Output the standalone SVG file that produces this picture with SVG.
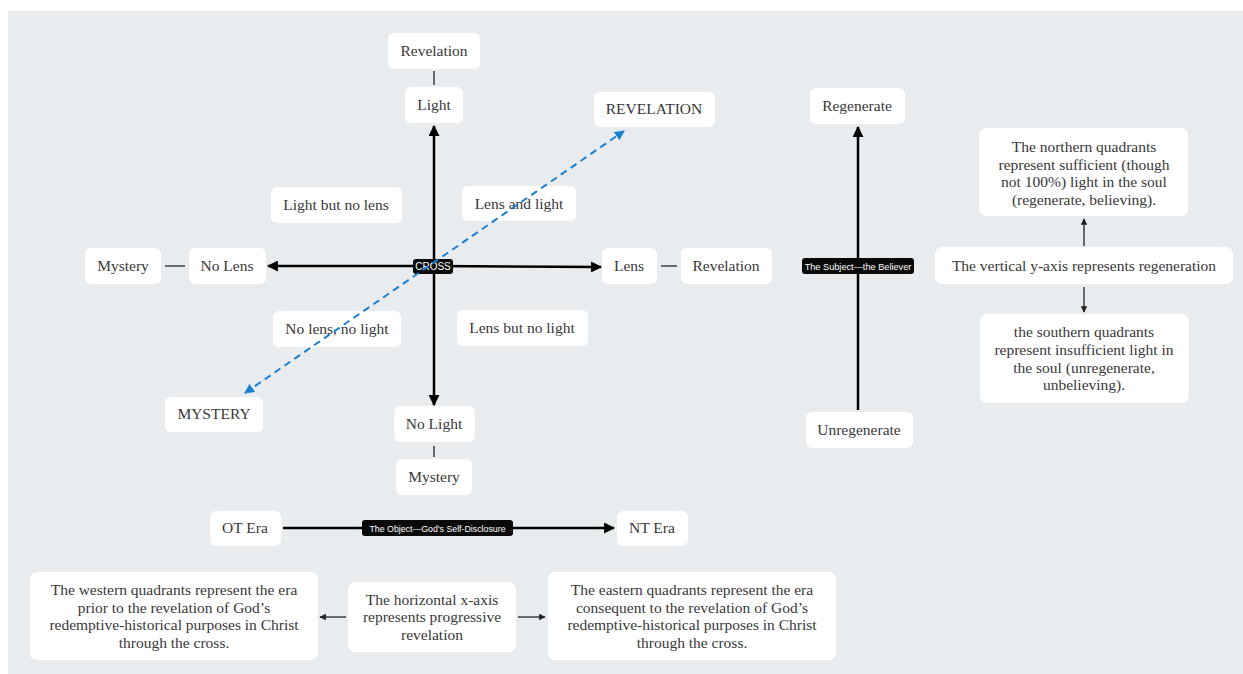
<svg xmlns="http://www.w3.org/2000/svg" width="1243" height="674" viewBox="0 0 1243 674">
<style>
.node rect{fill:#ffffff;}
.node text{font-family:"Liberation Serif","Times New Roman",serif;font-size:15.5px;fill:#383838;text-anchor:middle;}
.tag rect{fill:#0a0a0a;}
.tag text{font-family:"Liberation Sans",Arial,sans-serif;font-size:9.2px;fill:#ffffff;text-anchor:middle;}
.axis{stroke:#000;stroke-width:2.5;fill:none;}
.thin{stroke:#222;stroke-width:1.3;fill:none;}
.dash{stroke:#1a7fd0;stroke-width:2;fill:none;stroke-dasharray:7 5;}
</style>
<defs>
<marker id="ah" viewBox="0 0 10 10" refX="9" refY="5" markerWidth="4.4" markerHeight="4.4" orient="auto-start-reverse" markerUnits="strokeWidth">
<path d="M0,0 L10,5 L0,10 z" fill="#000"/>
</marker>
<marker id="ahs" viewBox="0 0 10 10" refX="9" refY="5" markerWidth="5" markerHeight="5" orient="auto-start-reverse" markerUnits="strokeWidth">
<path d="M0,0 L10,5 L0,10 z" fill="#222"/>
</marker>
<marker id="ahb" viewBox="0 0 10 10" refX="9" refY="5" markerWidth="5" markerHeight="5" orient="auto-start-reverse" markerUnits="strokeWidth">
<path d="M0,0 L10,5 L0,10 z" fill="#1a7fd0"/>
</marker>
</defs>
<rect x="0" y="0" width="1243" height="674" fill="#ffffff"/>
<rect x="8" y="11" width="1235" height="663" fill="#e8ecef"/>

<g id="connectors">
<line class="axis" x1="434" y1="266" x2="434" y2="126" marker-end="url(#ah)"/>
<line class="axis" x1="434" y1="266" x2="434" y2="405" marker-end="url(#ah)"/>
<line class="axis" x1="434" y1="266" x2="268" y2="266" marker-end="url(#ah)"/>
<line class="axis" x1="434" y1="266" x2="601" y2="267" marker-end="url(#ah)"/>
<line class="thin" x1="434" y1="71" x2="434" y2="85"/>
<line class="thin" x1="434" y1="446" x2="434" y2="457"/>
<line class="thin" x1="165" y1="266" x2="185" y2="266"/>
<line class="thin" x1="661" y1="266" x2="677" y2="266"/>
<line class="axis" x1="858" y1="410" x2="858" y2="127" marker-end="url(#ah)"/>
<line class="axis" x1="283" y1="528" x2="614" y2="528" marker-end="url(#ah)"/>
<line class="thin" x1="1084" y1="246" x2="1084" y2="219" marker-end="url(#ahs)"/>
<line class="thin" x1="1084" y1="287" x2="1084" y2="312" marker-end="url(#ahs)"/>
<line class="thin" x1="346" y1="617" x2="320" y2="617" marker-end="url(#ahs)"/>
<line class="thin" x1="518" y1="617" x2="545" y2="617" marker-end="url(#ahs)"/>
</g>

<g id="revelation-top" class="node"><rect x="388" y="33" width="92" height="36" rx="6"/><text x="434" y="56">Revelation</text></g>
<g id="light" class="node"><rect x="405" y="87" width="58" height="36" rx="6"/><text x="434" y="110">Light</text></g>
<g id="revelation-caps" class="node"><rect x="594" y="92" width="121" height="35" rx="6"/><text x="654" y="114">REVELATION</text></g>
<g id="light-no-lens" class="node"><rect x="271" y="187" width="131" height="36" rx="6"/><text x="336" y="210">Light but no lens</text></g>
<g id="lens-and-light" class="node"><rect x="462" y="186" width="114" height="35" rx="6"/><text x="519" y="209">Lens and light</text></g>
<g id="mystery-left" class="node"><rect x="85" y="248" width="76" height="36" rx="6"/><text x="123" y="271">Mystery</text></g>
<g id="no-lens" class="node"><rect x="189" y="248" width="77" height="36" rx="6"/><text x="227" y="271">No Lens</text></g>
<g id="lens" class="node"><rect x="602" y="248" width="55" height="36" rx="6"/><text x="629" y="271">Lens</text></g>
<g id="revelation-right" class="node"><rect x="681" y="248" width="91" height="36" rx="6"/><text x="726" y="271">Revelation</text></g>
<g id="no-lens-no-light" class="node"><rect x="273" y="311" width="128" height="36" rx="6"/><text x="337" y="334">No lens, no light</text></g>
<g id="lens-no-light" class="node"><rect x="457" y="310" width="131" height="36" rx="6"/><text x="522" y="333">Lens but no light</text></g>
<g id="mystery-caps" class="node"><rect x="165" y="397" width="98" height="35" rx="6"/><text x="214" y="419">MYSTERY</text></g>
<g id="no-light" class="node"><rect x="394" y="406" width="81" height="36" rx="6"/><text x="434" y="429">No Light</text></g>
<g id="mystery-bottom" class="node"><rect x="396" y="459" width="76" height="36" rx="6"/><text x="434" y="482">Mystery</text></g>

<g id="cross" class="tag"><rect x="413" y="259" width="40" height="15" rx="3"/><text x="433" y="270" style="font-size:10px">CROSS</text></g>

<g id="regenerate" class="node"><rect x="810" y="88" width="95" height="36" rx="6"/><text x="857" y="111">Regenerate</text></g>
<g id="unregenerate" class="node"><rect x="806" y="412" width="107" height="36" rx="6"/><text x="859" y="435">Unregenerate</text></g>
<g id="subject" class="tag"><rect x="802" y="258" width="112" height="16" rx="3"/><text x="858" y="269.5">The Subject—the Believer</text></g>

<g id="northern" class="node"><rect x="979" y="128" width="209" height="88" rx="7"/>
<text x="1084" y="152">The northern quadrants</text>
<text x="1084" y="169.5">represent sufficient (though</text>
<text x="1084" y="187">not 100%) light in the soul</text>
<text x="1084" y="204.5">(regenerate, believing).</text></g>
<g id="vertical-axis" class="node"><rect x="935" y="247" width="298" height="37" rx="7"/><text x="1084" y="271">The vertical y-axis represents regeneration</text></g>
<g id="southern" class="node"><rect x="980" y="314" width="209" height="89" rx="7"/>
<text x="1084" y="337">the southern quadrants</text>
<text x="1084" y="355">represent insufficient light in</text>
<text x="1084" y="372.5">the soul (unregenerate,</text>
<text x="1084" y="390">unbelieving).</text></g>

<g id="ot-era" class="node"><rect x="210" y="511" width="71" height="35" rx="6"/><text x="245" y="533">OT Era</text></g>
<g id="nt-era" class="node"><rect x="617" y="511" width="71" height="35" rx="6"/><text x="652" y="533">NT Era</text></g>
<g id="object" class="tag"><rect x="362" y="520" width="151" height="16" rx="3"/><text x="437.5" y="531.5" style="font-size:8.8px">The Object—God's Self-Disclosure</text></g>

<g id="western" class="node"><rect x="30" y="572" width="288" height="88" rx="7"/>
<text x="174" y="595">The western quadrants represent the era</text>
<text x="174" y="612.5">prior to the revelation of God’s</text>
<text x="174" y="630">redemptive-historical purposes in Christ</text>
<text x="174" y="647.5">through the cross.</text></g>
<g id="horizontal-axis" class="node"><rect x="348" y="582" width="168" height="70" rx="7"/>
<text x="432" y="605">The horizontal x-axis</text>
<text x="432" y="622">represents progressive</text>
<text x="432" y="639.5">revelation</text></g>
<g id="eastern" class="node"><rect x="548" y="572" width="288" height="88" rx="7"/>
<text x="692" y="595">The eastern quadrants represent the era</text>
<text x="692" y="612.5">consequent to the revelation of God’s</text>
<text x="692" y="630">redemptive-historical purposes in Christ</text>
<text x="692" y="647.5">through the cross.</text></g>

<g id="connectors-dashed">
<line class="dash" x1="245" y1="393" x2="624" y2="131" marker-start="url(#ahb)" marker-end="url(#ahb)"/>
</g>
</svg>
